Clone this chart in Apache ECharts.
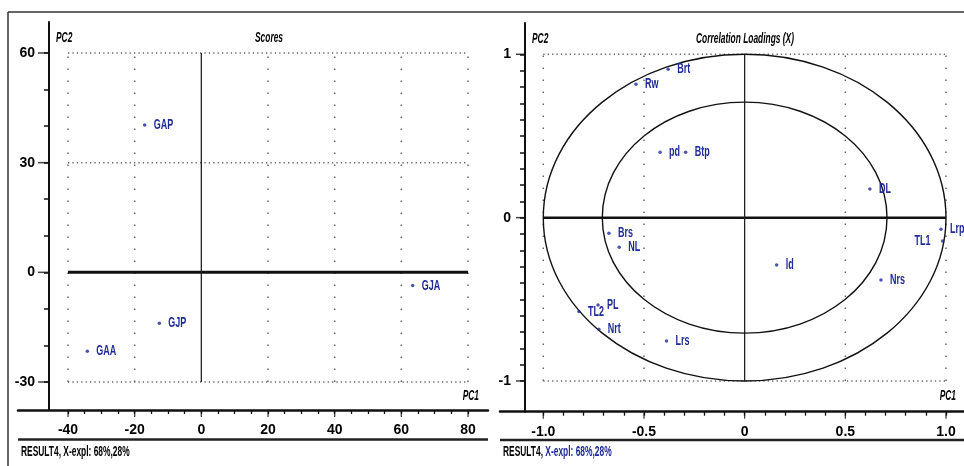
<!DOCTYPE html>
<html>
<head>
<meta charset="utf-8">
<script src="https://cdn.jsdelivr.net/npm/echarts@6/dist/echarts.min.js"></script>
<style>html,body{margin:0;padding:0;background:#fff;}#c{width:964px;height:466px;}</style>
</head>
<body>
<div id="c"></div>
<script>
// ---------- data ----------
const scoreNames = ['GAP', 'GJP', 'GAA', 'GJA'];
const scorePC1 = [-17.0, -12.6, -34.2, 63.4];
const scorePC2 = [40.3, -13.9, -21.6, -3.6];

const loadNames = ['Brt', 'Rw', 'pd', 'Btp', 'DL', 'Brs', 'NL', 'Lrp', 'TL1', 'ld', 'Nrs', 'TL2', 'PL', 'Nrt', 'Lrs'];
const loadPC1 = [-0.38, -0.54, -0.42, -0.293, 0.622, -0.674, -0.623, 0.975, 0.983, 0.159, 0.677, -0.823, -0.728, -0.724, -0.388];
const loadPC2 = [0.909, 0.817, 0.40, 0.40, 0.176, -0.096, -0.181, -0.071, -0.143, -0.29, -0.381, -0.575, -0.535, -0.683, -0.755];
const loadLabelLeft = ['TL1'];

// ticks
const xMajorL = [-40, -20, 0, 20, 40, 60, 80];
const xMinorL = [-35, -30, -25, -15, -10, -5, 5, 10, 15, 25, 30, 35, 45, 50, 55, 65, 70, 75];
const yMajorL = [60, 30, 0, -30];
const yMinorL = [50, 40, 20, 10, -10, -20];
const xMajorR = [-1.0, -0.5, 0, 0.5, 1.0];
const xMajorRLabels = ['-1.0', '-0.5', '0', '0.5', '1.0'];
const xMinorR = [-0.9, -0.8, -0.7, -0.6, -0.4, -0.3, -0.2, -0.1, 0.1, 0.2, 0.3, 0.4, 0.6, 0.7, 0.8, 0.9];
const yMajorR = [1, 0, -1];
const yMinorR = [0.9, 0.8, 0.7, 0.6, 0.5, 0.4, 0.3, 0.2, 0.1, -0.1, -0.2, -0.3, -0.4, -0.5, -0.6, -0.7, -0.8, -0.9];

// axis extents (the drawn axes run a little past the reference frame)
const xRangeL = [-55, 86];
const yRangeL = [-37.66, 68.48];
const xRangeR = [-1.215, 1.0894];
const yRangeR = [-1.188, 1.1916];

// reference frames
const frameL = { xMin: -40, xMax: 80, yMin: -30, yMax: 60 };
const dotXL = [-40, -20, 20, 40, 60, 80];
const dotYL = [60, 30, -30];
const frameR = { xMin: -1, xMax: 1, yMin: -1, yMax: 1 };
const dotXR = [-1, -0.5, 0.5, 1];
const dotYR = [1, -1];
const circleRadii = [1, 0.707];

// ---------- style ----------
const FONT = "'Liberation Sans Narrow','Liberation Sans',Arial,sans-serif";
const BLUE = '#1f2a96';
const AX = '#111';
const SQX = 0.6;

// grid geometry (px)
const GL = { left: 18, top: 22, width: 470, height: 388, yAxisInset: 31 };
const GR = { left: 500, top: 23, width: 464, height: 388.7, yAxisInset: 25 };

function segs(frame, dx, dy) {
  const v = dx.map(x => [x, frame.yMin, x, frame.yMax]);
  const h = dy.map(y => [frame.xMin, y, frame.xMax, y]);
  return { v, h };
}

function lineSeries(xi, yi, data, style) {
  return {
    type: 'custom', xAxisIndex: xi, yAxisIndex: yi, silent: true, clip: false,
    encode: { x: [0, 2], y: [1, 3] },
    data: data,
    renderItem: function (params, api) {
      const p1 = api.coord([api.value(0), api.value(1)]);
      const p2 = api.coord([api.value(2), api.value(3)]);
      return { type: 'line', shape: { x1: p1[0], y1: p1[1], x2: p2[0], y2: p2[1] }, style: Object.assign({ fill: null }, style) };
    },
    z: 1
  };
}

// longer major ticks: thin rect symbols sitting on the axis lines (axis itself draws all ticks short)
function majorTickSeries(xi, yi, xMajor, yMajor, g, xRange, yRange, yLen) {
  const axisXValue = xRange[0] + g.yAxisInset * (xRange[1] - xRange[0]) / g.width;
  return [{
    type: 'scatter', xAxisIndex: xi, yAxisIndex: yi, silent: true, clip: false,
    symbol: 'rect', symbolSize: [yLen, 1.5], symbolOffset: [-yLen / 2 - 1, 0],
    itemStyle: { color: AX }, data: yMajor.map(v => [axisXValue, v]), z: 4
  }, {
    type: 'scatter', xAxisIndex: xi, yAxisIndex: yi, silent: true, clip: false,
    symbol: 'rect', symbolSize: [1.3, 6], symbolOffset: [0, 4],
    itemStyle: { color: AX }, data: xMajor.map(v => [v, yRange[0]]), z: 4
  }];
}

function labelSeries(xi, yi, names, xs, ys, leftNames) {
  return {
    type: 'custom', xAxisIndex: xi, yAxisIndex: yi, silent: true, clip: false,
    encode: { x: 0, y: 1 },
    data: names.map((n, i) => [xs[i], ys[i], i]),
    renderItem: function (params, api) {
      const p = api.coord([api.value(0), api.value(1)]);
      const name = names[api.value(2)];
      const left = leftNames.indexOf(name) >= 0;
      return {
        type: 'text', x: p[0] + (left ? -12 : 9), y: p[1], scaleX: SQX, scaleY: 1,
        style: { text: name, fill: BLUE, font: 'bold 15px ' + FONT, align: left ? 'right' : 'left', verticalAlign: 'middle', textAlign: left ? 'right' : 'left', textVerticalAlign: 'middle' }
      };
    },
    z: 6
  };
}

const sortNum = a => a.slice().sort((p, q) => p - q);

function mainX(grid, range, major, minor, fmt) {
  return {
    gridIndex: grid, type: 'value', min: range[0], max: range[1], position: 'bottom',
    axisLine: { show: true, onZero: false, lineStyle: { color: AX, width: 2.5 } },
    axisTick: { show: true, inside: false, length: 4, customValues: sortNum(major.concat(minor)), lineStyle: { color: AX, width: 1.3 } },
    axisLabel: { show: true, customValues: major, margin: 13, color: '#000', fontFamily: FONT, fontWeight: 'bold', fontSize: 14, formatter: fmt },
    splitLine: { show: false }
  };
}
function mainY(grid, range, offset, major, minor) {
  return {
    gridIndex: grid, type: 'value', min: range[0], max: range[1], position: 'left', offset: offset,
    axisLine: { show: true, onZero: false, lineStyle: { color: AX, width: 2 } },
    axisTick: { show: true, inside: false, length: 5, customValues: sortNum(major.concat(minor)), lineStyle: { color: AX, width: 1.5 } },
    axisLabel: { show: true, customValues: major, margin: 14, color: '#000', fontFamily: FONT, fontWeight: 'bold', fontSize: 14 },
    splitLine: { show: false }
  };
}

const sL = segs(frameL, dotXL, dotYL);
const sR = segs(frameR, dotXR, dotYR);

const scoreData = scoreNames.map((n, i) => ({ name: n, value: [scorePC1[i], scorePC2[i]] }));
const loadData = loadNames.map((n, i) => ({ name: n, value: [loadPC1[i], loadPC2[i]] }));

function txt(x, y, text, align, italic) {
  return {
    type: 'text', x: x, y: y, scaleX: SQX, scaleY: 1, silent: true,
    style: { text: text, fill: '#000', font: (italic ? 'italic ' : '') + 'bold 14px ' + FONT, align: align, verticalAlign: 'middle', textAlign: align, textVerticalAlign: 'middle' }
  };
}

const fmtR = v => { const k = xMajorR.indexOf(v); return k >= 0 ? xMajorRLabels[k] : String(v); };

const chart = echarts.init(document.getElementById('c'), null, { renderer: 'canvas' });
chart.setOption({
  backgroundColor: '#fff',
  animation: false,
  grid: [
    { left: GL.left, top: GL.top, width: GL.width, height: GL.height, containLabel: false, outerBoundsMode: 'none' },
    { left: GR.left, top: GR.top, width: GR.width, height: GR.height, containLabel: false, outerBoundsMode: 'none' }
  ],
  xAxis: [
    mainX(0, xRangeL, xMajorL, xMinorL, null),
    mainX(1, xRangeR, xMajorR, xMinorR, fmtR)
  ],
  yAxis: [
    mainY(0, yRangeL, -GL.yAxisInset, yMajorL, yMinorL),
    mainY(1, yRangeR, -GR.yAxisInset, yMajorR, yMinorR)
  ],
  series: [].concat(
    [
      lineSeries(0, 0, sL.v, { stroke: '#666', lineWidth: 1.5, lineDash: [1.5, 10.5] }),
      lineSeries(0, 0, sL.h, { stroke: '#666', lineWidth: 1.5, lineDash: [1.3, 3.1] }),
      lineSeries(0, 0, [[frameL.xMin, 0, frameL.xMax, 0]], { stroke: '#111', lineWidth: 3 }),
      lineSeries(0, 0, [[0, frameL.yMin, 0, frameL.yMax]], { stroke: '#222', lineWidth: 1.3 })
    ],
    majorTickSeries(0, 0, xMajorL, yMajorL, GL, xRangeL, yRangeL, 10),
    [
      {
        type: 'scatter', xAxisIndex: 0, yAxisIndex: 0, symbol: 'circle', symbolSize: 3.5,
        itemStyle: { color: BLUE }, data: scoreData, z: 5
      },
      labelSeries(0, 0, scoreNames, scorePC1, scorePC2, []),
      lineSeries(1, 1, sR.v, { stroke: '#666', lineWidth: 1.5, lineDash: [1.5, 10.5] }),
      lineSeries(1, 1, sR.h, { stroke: '#666', lineWidth: 1.5, lineDash: [1.3, 3.1] }),
      lineSeries(1, 1, [[frameR.xMin, 0, frameR.xMax, 0]], { stroke: '#111', lineWidth: 2.5 }),
      lineSeries(1, 1, [[0, frameR.yMin, 0, frameR.yMax]], { stroke: '#222', lineWidth: 1.3 })
    ],
    majorTickSeries(1, 1, xMajorR, yMajorR, GR, xRangeR, yRangeR, 8),
    [
      {
        type: 'custom', xAxisIndex: 1, yAxisIndex: 1, silent: true, clip: false,
        data: circleRadii.map(r => [0, 0, r]),
        encode: { x: 0, y: 1 },
        renderItem: function (params, api) {
          const c = api.coord([api.value(0), api.value(1)]);
          const r = api.value(2);
          const e = api.coord([r, r]);
          return { type: 'ellipse', shape: { cx: c[0], cy: c[1], rx: e[0] - c[0], ry: c[1] - e[1] }, style: { fill: null, stroke: '#111', lineWidth: 1.4 } };
        },
        z: 2
      },
      {
        type: 'scatter', xAxisIndex: 1, yAxisIndex: 1, symbol: 'circle', symbolSize: 3.5,
        itemStyle: { color: BLUE }, data: loadData, z: 5
      },
      labelSeries(1, 1, loadNames, loadPC1, loadPC2, loadLabelLeft)
    ]
  ),
  graphic: [
    { type: 'line', shape: { x1: 8, y1: 12, x2: 964, y2: 12 }, style: { stroke: '#333', lineWidth: 1.5 }, silent: true },
    { type: 'line', shape: { x1: 8, y1: 12, x2: 8, y2: 466 }, style: { stroke: '#333', lineWidth: 1.5 }, silent: true },
    { type: 'line', shape: { x1: 18, y1: 439.5, x2: 488, y2: 439.5 }, style: { stroke: '#222', lineWidth: 2.5 }, silent: true },
    { type: 'line', shape: { x1: 500, y1: 440, x2: 964, y2: 440 }, style: { stroke: '#222', lineWidth: 2.5 }, silent: true },
    txt(56, 38, 'PC2', 'left', true),
    txt(269, 38, 'Scores', 'center', true),
    txt(479, 396, 'PC1', 'right', true),
    txt(532, 39, 'PC2', 'left', true),
    txt(745, 39, 'Correlation Loadings (X)', 'center', true),
    txt(956, 396, 'PC1', 'right', true),
    txt(21, 452, 'RESULT4, X-expl: 68%,28%', 'left', false),
    {
      type: 'text', x: 503, y: 452, scaleX: SQX, scaleY: 1, silent: true,
      style: {
        text: '{a|RESULT4,} {b|X-expl: 68%,28%}', font: 'bold 14px ' + FONT, align: 'left', verticalAlign: 'middle', textAlign: 'left', textVerticalAlign: 'middle',
        rich: { a: { fill: '#000', color: '#000', font: 'bold 14px ' + FONT }, b: { fill: BLUE, color: BLUE, font: 'bold 14px ' + FONT } }
      }
    }
  ]
});
</script>
</body>
</html>
